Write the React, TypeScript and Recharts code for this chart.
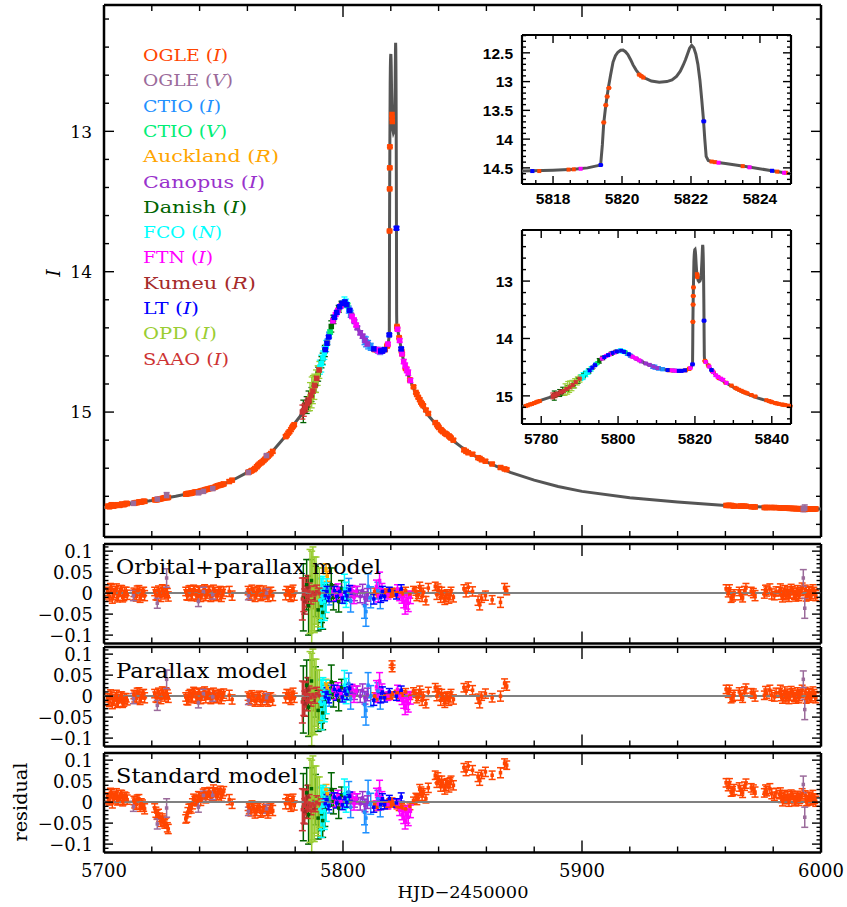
import React from 'react';
import { ComposedChart, Scatter, XAxis, YAxis, ErrorBar } from 'recharts';

// ---------- DATA ----------
// model light curve: [HJD-2450000, I]
const modelCurve: [number, number][] = [
  [5700, 15.68], [5710, 15.655], [5720, 15.63], [5730, 15.6], [5740, 15.565], [5745, 15.545], [5750, 15.515],
  [5755, 15.475], [5760, 15.43], [5765, 15.37], [5770, 15.29], [5775, 15.19], [5778, 15.125], [5780, 15.075],
  [5782, 15.03], [5784, 14.975], [5786, 14.905], [5788, 14.82], [5790, 14.71], [5792, 14.59], [5794, 14.46],
  [5796, 14.345], [5797, 14.3], [5798, 14.265], [5799, 14.24], [5800, 14.225], [5801, 14.225], [5802, 14.25],
  [5803, 14.29], [5804, 14.33], [5806, 14.4], [5808, 14.46], [5810, 14.51], [5812, 14.54], [5814, 14.555],
  [5816, 14.56], [5817.1, 14.555], [5818, 14.54], [5818.6, 14.525], [5819, 14.5], [5819.3, 14.46], [5819.38, 14.45],
  [5819.43, 14.1], [5819.47, 13.72], [5819.53, 13.41], [5819.6, 13.12], [5819.67, 12.88], [5819.74, 12.66],
  [5819.81, 12.55], [5819.88, 12.49], [5819.96, 12.455], [5820.03, 12.45], [5820.1, 12.48], [5820.17, 12.53],
  [5820.25, 12.62], [5820.32, 12.71], [5820.41, 12.8], [5820.5, 12.87], [5820.6, 12.92], [5820.7, 12.95],
  [5820.85, 12.99], [5821.08, 13.01], [5821.3, 13.0], [5821.45, 12.97], [5821.58, 12.91], [5821.69, 12.82],
  [5821.77, 12.72], [5821.84, 12.62], [5821.9, 12.52], [5821.96, 12.42], [5822.02, 12.37], [5822.08, 12.41],
  [5822.14, 12.52], [5822.2, 12.7], [5822.26, 12.98], [5822.31, 13.3], [5822.36, 13.65], [5822.4, 14.0],
  [5822.44, 14.3], [5822.5, 14.37], [5822.62, 14.395], [5823, 14.425], [5823.68, 14.485], [5824.3, 14.545],
  [5824.9, 14.6], [5826, 14.68], [5828, 14.77], [5830, 14.85], [5832, 14.92], [5834, 14.98], [5836, 15.03],
  [5840, 15.11], [5845, 15.19], [5850, 15.255], [5855, 15.31], [5860, 15.355], [5870, 15.43], [5880, 15.485],
  [5890, 15.53], [5900, 15.565], [5920, 15.61], [5940, 15.64], [5960, 15.665], [5980, 15.68], [6000, 15.69],
];

// rows: [t, I, err, residual orbital+parallax, residual parallax, residual standard]
type Row = [number, number, number, number, number, number];

const ogleI: Row[] = [
  [5701.5, 15.67, 0.010, 0.004, -0.004, 0.012], [5702.3, 15.675, 0.011, -0.008, -0.014, 0.004],
  [5703.1, 15.66, 0.010, 0.010, 0.002, 0.020], [5703.9, 15.67, 0.012, -0.004, -0.010, 0.010],
  [5704.8, 15.665, 0.010, 0.006, -0.002, 0.016], [5705.6, 15.66, 0.011, -0.010, -0.016, 0.004],
  [5706.5, 15.665, 0.010, 0.002, -0.006, 0.012], [5707.4, 15.655, 0.010, 0.008, 0.000, 0.018],
  [5708.3, 15.66, 0.012, -0.006, -0.012, 0.006], [5709.3, 15.65, 0.010, 0.004, -0.004, 0.012],
  [5712.5, 15.65, 0.010, 0.002, 0.004, 0.004], [5713.5, 15.645, 0.011, -0.008, -0.006, -0.006],
  [5714.6, 15.64, 0.010, 0.008, 0.010, 0.008], [5715.6, 15.64, 0.012, -0.004, -0.002, -0.004],
  [5716.6, 15.635, 0.010, 0.004, 0.006, -0.012],
  [5721.2, 15.625, 0.010, 0.004, 0.006, -0.014], [5722.2, 15.625, 0.011, -0.006, -0.004, -0.030],
  [5723.3, 15.62, 0.010, 0.002, 0.004, -0.036], [5724.4, 15.615, 0.012, 0.008, 0.010, -0.040],
  [5725.4, 15.61, 0.010, -0.004, -0.002, -0.052], [5726.5, 15.61, 0.011, 0.000, 0.004, -0.060],
  [5734.2, 15.585, 0.010, 0.004, -0.002, -0.040], [5735.1, 15.58, 0.011, -0.006, -0.010, -0.024],
  [5736.0, 15.58, 0.010, 0.008, 0.006, -0.012], [5737.0, 15.575, 0.012, -0.002, 0.000, -0.004],
  [5738.0, 15.57, 0.010, 0.006, 0.008, 0.004], [5739.0, 15.57, 0.011, -0.008, -0.006, 0.002],
  [5740.0, 15.565, 0.010, 0.004, 0.006, 0.014], [5741.0, 15.56, 0.010, -0.004, 0.000, 0.010],
  [5742.1, 15.555, 0.012, 0.008, 0.010, 0.022], [5743.1, 15.55, 0.010, -0.002, 0.002, 0.016],
  [5744.2, 15.545, 0.011, 0.006, 0.006, 0.024], [5745.3, 15.54, 0.010, -0.006, -0.004, 0.014],
  [5746.4, 15.535, 0.010, 0.004, 0.004, 0.024], [5747.5, 15.525, 0.012, -0.004, -0.002, 0.018],
  [5748.6, 15.52, 0.010, 0.006, 0.006, 0.028], [5749.6, 15.515, 0.011, -0.002, 0.000, 0.020],
  [5752.4, 15.495, 0.012, 0.004, 0.002, 0.006], [5753.6, 15.485, 0.011, -0.006, -0.008, -0.004],
  [5760.3, 15.43, 0.010, 0.006, 0.000, -0.010], [5761.5, 15.42, 0.011, -0.006, -0.010, -0.022],
  [5762.7, 15.41, 0.010, 0.004, -0.002, -0.014], [5763.9, 15.39, 0.012, -0.002, -0.008, -0.020],
  [5765.0, 15.37, 0.010, 0.008, 0.002, -0.010], [5766.2, 15.355, 0.011, -0.004, -0.010, -0.022],
  [5767.4, 15.335, 0.010, 0.002, -0.004, -0.016], [5768.6, 15.315, 0.012, -0.008, -0.012, -0.026],
  [5769.8, 15.295, 0.010, 0.004, -0.002, -0.014],
  [5776.5, 15.165, 0.010, 0.006, 0.006, 0.008], [5777.6, 15.14, 0.012, -0.004, -0.004, -0.004],
  [5778.7, 15.11, 0.010, 0.004, 0.002, 0.004], [5779.6, 15.09, 0.011, -0.006, -0.004, -0.008],
  [5813.2, 14.555, 0.008, 0.004, 0.000, -0.006], [5814.3, 14.56, 0.008, -0.004, -0.006, -0.012],
  [5817.6, 14.555, 0.006, 0.002, 0.000, -0.004], [5818.45, 14.53, 0.006, -0.002, -0.004, -0.010],
  [5818.6, 14.525, 0.006, 0.004, 0.002, -0.006],
  [5819.47, 13.71, 0.006, 0.002, 0.004, 0.000], [5819.53, 13.41, 0.006, -0.002, 0.000, -0.004],
  [5819.57, 13.26, 0.006, 0.002, 0.002, 0.002], [5819.62, 13.11, 0.006, -0.004, -0.002, -0.006],
  [5820.5, 12.88, 0.008, 0.004, 0.076, 0.002], [5820.56, 12.905, 0.008, 0.002, 0.066, 0.000],
  [5820.62, 12.93, 0.006, -0.002, 0.004, -0.004],
  [5822.6, 14.39, 0.006, 0.000, 0.004, -0.010], [5822.7, 14.40, 0.006, 0.004, 0.008, -0.006],
  [5823.5, 14.47, 0.006, -0.004, 0.000, -0.014], [5824.5, 14.565, 0.007, 0.002, 0.006, -0.010],
  [5824.75, 14.585, 0.007, -0.002, 0.002, -0.014],
  [5826.2, 14.69, 0.008, 0.006, 0.010, -0.016], [5828.0, 14.77, 0.008, -0.004, 0.000, -0.010],
  [5829.5, 14.82, 0.008, 0.008, 0.012, 0.004], [5830.5, 14.86, 0.009, 0.004, 0.006, 0.012],
  [5831.5, 14.895, 0.009, -0.004, -0.002, 0.010], [5832.6, 14.93, 0.010, 0.008, 0.006, 0.026],
  [5833.6, 14.955, 0.010, 0.002, 0.000, 0.022], [5834.7, 14.985, 0.010, -0.018, -0.018, 0.008],
  [5835.7, 15.01, 0.011, 0.012, 0.010, 0.034],
  [5838.6, 15.075, 0.010, 0.016, 0.020, 0.064], [5839.3, 15.09, 0.011, -0.004, 0.000, 0.046],
  [5840.1, 15.11, 0.010, 0.006, 0.008, 0.052], [5840.9, 15.125, 0.012, -0.010, -0.010, 0.038],
  [5841.8, 15.14, 0.010, -0.004, -0.002, 0.044], [5842.6, 15.15, 0.011, -0.016, -0.016, 0.030],
  [5843.5, 15.16, 0.010, -0.002, 0.000, 0.046], [5844.3, 15.17, 0.012, -0.012, -0.010, 0.036],
  [5845.2, 15.185, 0.010, 0.004, 0.006, 0.052], [5846.2, 15.20, 0.011, -0.010, -0.008, 0.040],
  [5850.6, 15.27, 0.010, 0.010, 0.020, 0.082], [5851.5, 15.28, 0.011, 0.002, 0.012, 0.074],
  [5852.4, 15.29, 0.010, 0.014, 0.024, 0.086], [5854.2, 15.30, 0.011, 0.004, 0.014, 0.076],
  [5856.5, 15.325, 0.011, -0.018, -0.006, 0.060], [5857.2, 15.33, 0.012, -0.028, -0.016, 0.052],
  [5858.0, 15.34, 0.010, -0.012, 0.000, 0.066], [5859.6, 15.35, 0.011, -0.006, 0.006, 0.072],
  [5862.4, 15.37, 0.010, -0.016, -0.004, 0.064], [5865.9, 15.395, 0.012, -0.022, 0.000, 0.070],
  [5867.6, 15.405, 0.011, 0.012, 0.030, 0.092], [5868.5, 15.41, 0.010, 0.006, 0.024, 0.088],
  [5960.3, 15.665, 0.010, 0.010, 0.016, 0.046], [5961.2, 15.665, 0.011, 0.002, 0.008, 0.038],
  [5962.4, 15.665, 0.010, -0.012, -0.006, 0.024], [5963.6, 15.67, 0.012, -0.004, 0.002, 0.030],
  [5965.8, 15.67, 0.010, 0.004, 0.010, 0.036], [5967.2, 15.67, 0.011, -0.010, -0.004, 0.022],
  [5968.0, 15.67, 0.010, 0.006, 0.012, 0.038], [5970.8, 15.675, 0.010, 0.004, 0.008, 0.034],
  [5971.7, 15.675, 0.011, 0.000, 0.006, 0.030],
  [5976.3, 15.68, 0.010, -0.002, 0.002, 0.022], [5977.3, 15.68, 0.011, 0.004, 0.006, 0.026],
  [5978.6, 15.68, 0.012, 0.010, 0.014, 0.032], [5980.5, 15.68, 0.010, -0.006, -0.002, 0.014],
  [5982.6, 15.682, 0.010, 0.004, 0.008, 0.018], [5983.4, 15.683, 0.011, -0.004, 0.000, 0.010],
  [5984.3, 15.684, 0.010, 0.002, 0.004, 0.014], [5985.2, 15.685, 0.010, -0.006, -0.004, 0.006],
  [5986.1, 15.685, 0.011, 0.004, 0.006, 0.014], [5987.0, 15.686, 0.010, -0.002, 0.000, 0.008],
  [5988.0, 15.687, 0.010, 0.006, 0.008, 0.016], [5988.9, 15.687, 0.011, -0.004, -0.002, 0.004],
  [5989.8, 15.688, 0.010, 0.002, 0.004, 0.010], [5990.7, 15.688, 0.012, -0.006, -0.004, 0.004],
  [5991.6, 15.689, 0.010, 0.004, 0.006, 0.012], [5993.4, 15.69, 0.011, 0.008, 0.010, 0.016],
  [5994.3, 15.69, 0.012, -0.004, -0.002, 0.004], [5995.2, 15.69, 0.010, 0.006, 0.008, 0.014],
  [5996.1, 15.69, 0.011, -0.002, 0.000, 0.006], [5997.0, 15.69, 0.010, 0.004, 0.006, 0.010],
  [5997.8, 15.69, 0.012, -0.006, -0.004, 0.002],
];

// further OGLE I epochs inside the densely sampled seasons
const ogleI2: Row[] = [
  [5701.9, 15.672, 0.012, -0.002, -0.010, 0.008], [5702.7, 15.668, 0.011, 0.012, 0.004, 0.022],
  [5703.5, 15.666, 0.012, -0.012, -0.018, -0.002], [5704.3, 15.667, 0.011, 0.000, -0.008, 0.010],
  [5705.2, 15.662, 0.012, 0.010, 0.002, 0.020], [5706.0, 15.663, 0.011, -0.006, -0.014, 0.006],
  [5706.9, 15.66, 0.012, 0.006, -0.002, 0.016], [5707.8, 15.658, 0.011, -0.010, -0.016, 0.002],
  [5708.7, 15.656, 0.012, 0.002, -0.006, 0.012], [5709.7, 15.652, 0.011, -0.004, -0.010, 0.006],
  [5712.9, 15.648, 0.012, -0.004, -0.002, -0.002], [5713.9, 15.645, 0.011, 0.006, 0.008, 0.006],
  [5715.1, 15.641, 0.012, -0.010, -0.008, -0.010], [5716.1, 15.638, 0.011, 0.002, 0.004, -0.006],
  [5717.0, 15.636, 0.012, -0.006, -0.004, -0.016],
  [5721.7, 15.625, 0.012, -0.004, -0.002, -0.024], [5722.8, 15.622, 0.011, 0.006, 0.008, -0.028],
  [5723.8, 15.618, 0.012, -0.008, -0.006, -0.046], [5724.9, 15.613, 0.011, 0.002, 0.004, -0.044],
  [5725.9, 15.61, 0.012, 0.006, 0.008, -0.050], [5726.9, 15.608, 0.011, -0.008, -0.004, -0.064],
  [5734.6, 15.583, 0.012, -0.004, -0.008, -0.036], [5735.5, 15.58, 0.011, 0.006, 0.002, -0.016],
  [5736.5, 15.578, 0.012, -0.006, -0.004, -0.014], [5737.5, 15.573, 0.011, 0.008, 0.010, 0.008],
  [5738.5, 15.57, 0.012, -0.004, -0.002, 0.004], [5739.5, 15.568, 0.011, 0.006, 0.008, 0.014],
  [5740.5, 15.563, 0.012, -0.008, -0.006, 0.004], [5741.5, 15.558, 0.011, 0.006, 0.008, 0.020],
  [5742.6, 15.552, 0.012, -0.006, -0.004, 0.010], [5743.6, 15.548, 0.011, 0.004, 0.006, 0.022],
  [5744.7, 15.543, 0.012, -0.008, -0.006, 0.012], [5745.8, 15.538, 0.011, 0.008, 0.008, 0.030],
  [5746.9, 15.53, 0.012, -0.006, -0.004, 0.014], [5748.0, 15.523, 0.011, 0.002, 0.002, 0.022],
  [5749.1, 15.518, 0.012, -0.008, -0.006, 0.014], [5750.1, 15.512, 0.011, 0.004, 0.006, 0.026],
  [5760.8, 15.426, 0.012, -0.002, -0.006, -0.016], [5761.9, 15.416, 0.011, 0.008, 0.002, -0.008],
  [5763.2, 15.402, 0.012, -0.008, -0.012, -0.026], [5764.4, 15.38, 0.011, 0.004, -0.002, -0.014],
  [5765.6, 15.362, 0.012, -0.006, -0.012, -0.024], [5766.8, 15.345, 0.011, 0.006, 0.000, -0.012],
  [5768.0, 15.325, 0.012, -0.002, -0.008, -0.020], [5769.2, 15.305, 0.011, 0.002, -0.004, -0.016],
  [5770.6, 15.28, 0.012, -0.006, -0.010, -0.020],
  [5776.0, 15.175, 0.012, -0.004, -0.004, -0.004], [5777.1, 15.15, 0.011, 0.004, 0.004, 0.006],
  [5778.2, 15.125, 0.012, -0.008, -0.008, -0.010], [5779.1, 15.1, 0.011, 0.008, 0.008, 0.008],
  [5830.9, 14.875, 0.012, -0.006, -0.004, 0.006], [5832.1, 14.912, 0.012, 0.014, 0.012, 0.030],
  [5833.1, 14.942, 0.012, -0.008, -0.010, 0.016],
  [5839.7, 15.1, 0.012, 0.010, 0.012, 0.058], [5841.3, 15.132, 0.012, 0.002, 0.004, 0.050],
  [5843.0, 15.155, 0.012, -0.008, -0.006, 0.040], [5844.8, 15.178, 0.012, -0.004, -0.002, 0.046],
  [5961.7, 15.665, 0.012, 0.008, 0.014, 0.044], [5963.0, 15.667, 0.011, -0.008, -0.002, 0.026],
  [5966.4, 15.67, 0.012, -0.004, 0.002, 0.028], [5968.6, 15.671, 0.011, 0.012, 0.018, 0.044],
  [5972.4, 15.676, 0.012, -0.006, 0.000, 0.024], [5976.8, 15.68, 0.011, 0.008, 0.012, 0.030],
  [5979.4, 15.68, 0.012, -0.002, 0.002, 0.020], [5981.2, 15.681, 0.011, 0.004, 0.008, 0.022],
  [5983.0, 15.682, 0.012, 0.010, 0.014, 0.022], [5983.9, 15.683, 0.011, -0.010, -0.006, 0.002],
  [5984.8, 15.684, 0.012, 0.006, 0.010, 0.016], [5985.7, 15.685, 0.011, -0.002, 0.000, 0.008],
  [5986.6, 15.686, 0.012, -0.008, -0.006, 0.002], [5987.5, 15.686, 0.011, 0.010, 0.012, 0.018],
  [5988.5, 15.687, 0.012, 0.000, 0.002, 0.010], [5989.4, 15.688, 0.011, -0.008, -0.006, 0.002],
  [5990.2, 15.688, 0.012, 0.006, 0.008, 0.014], [5991.1, 15.689, 0.011, -0.002, 0.000, 0.008],
  [5992.1, 15.689, 0.012, 0.012, 0.014, 0.020], [5993.8, 15.69, 0.011, -0.008, -0.006, 0.002],
  [5994.8, 15.69, 0.012, 0.002, 0.004, 0.010], [5995.7, 15.69, 0.011, -0.006, -0.004, 0.004],
  [5996.6, 15.69, 0.012, 0.008, 0.010, 0.016], [5997.4, 15.69, 0.011, -0.002, 0.000, 0.008],
];

const ogleV: Row[] = [
  [5712.3, 15.65, 0.012, -0.006, -0.006, -0.010], [5722.3, 15.62, 0.012, -0.024, -0.022, -0.052],
  [5726.2, 15.595, 0.022, 0.036, 0.040, -0.014], [5739.5, 15.575, 0.012, -0.020, -0.016, -0.012],
  [5741.6, 15.565, 0.010, 0.004, 0.006, 0.016], [5745.5, 15.545, 0.010, -0.004, -0.002, 0.016],
  [5760.4, 15.43, 0.010, -0.006, -0.010, -0.022], [5768.0, 15.31, 0.010, 0.000, -0.004, -0.016],
  [5992.6, 15.69, 0.020, 0.036, 0.040, 0.042], [5993.2, 15.685, 0.024, -0.036, -0.032, -0.036],
];

const ctioI: Row[] = [
  [5793.5, 14.50, 0.020, 0.006, 0.010, 0.008], [5794.2, 14.45, 0.020, -0.008, -0.004, -0.006],
  [5802.4, 14.27, 0.025, 0.010, 0.030, 0.024], [5803.2, 14.30, 0.025, -0.020, -0.006, -0.012],
  [5809.0, 14.49, 0.030, -0.030, -0.020, -0.024], [5809.6, 14.50, 0.035, -0.044, -0.034, -0.038],
  [5810.5, 14.52, 0.030, 0.016, 0.026, 0.022], [5811.6, 14.535, 0.025, -0.010, 0.000, -0.004],
  [5814.6, 14.56, 0.020, 0.006, 0.012, 0.008], [5815.6, 14.565, 0.025, -0.012, -0.006, -0.010],
];

const ctioV: Row[] = [
  [5794.6, 14.43, 0.015, 0.004, 0.010, 0.008], [5801.9, 14.24, 0.015, -0.004, 0.006, 0.002],
];

const auckland: Row[] = [
  [5792.9, 14.535, 0.012, 0.058, 0.028, 0.030], [5793.4, 14.51, 0.012, 0.040, 0.020, 0.020],
];

const canopus: Row[] = [
  [5803.5, 14.31, 0.012, 0.002, 0.012, 0.008], [5804.8, 14.355, 0.012, -0.006, 0.004, 0.000],
  [5806.0, 14.40, 0.012, 0.004, 0.012, 0.008], [5807.2, 14.435, 0.015, -0.008, 0.000, -0.004],
  [5808.2, 14.46, 0.015, 0.006, 0.014, 0.010], [5809.2, 14.49, 0.015, -0.012, -0.004, -0.008],
  [5810.2, 14.515, 0.015, -0.004, 0.004, 0.000],
];

const danish: Row[] = [
  [5783.4, 14.995, 0.080, -0.010, -0.008, -0.012], [5784.8, 14.95, 0.060, 0.020, 0.026, 0.022],
  [5785.6, 14.92, 0.070, -0.030, -0.026, -0.030], [5786.8, 14.875, 0.050, 0.030, 0.036, 0.032],
  [5788.5, 14.80, 0.060, 0.004, 0.010, 0.006], [5789.6, 14.73, 0.050, -0.040, -0.034, -0.038],
  [5791.0, 14.645, 0.040, -0.030, -0.024, -0.028], [5791.5, 14.62, 0.040, -0.046, -0.040, -0.044],
  [5792.4, 14.565, 0.040, -0.020, -0.014, -0.018], [5795.1, 14.39, 0.040, 0.020, 0.034, 0.030],
  [5796.0, 14.34, 0.030, -0.010, 0.004, 0.002], [5798.2, 14.265, 0.025, -0.020, -0.010, -0.014],
  [5799.4, 14.23, 0.020, 0.010, 0.020, 0.016],
];

const fco: Row[] = [
  [5790.3, 14.68, 0.050, -0.016, -0.012, -0.016], [5790.9, 14.655, 0.060, -0.024, -0.020, -0.024],
  [5791.6, 14.615, 0.050, -0.010, -0.006, -0.010], [5792.2, 14.58, 0.045, -0.020, -0.016, -0.020],
  [5793.0, 14.53, 0.040, -0.006, -0.002, -0.006], [5800.6, 14.215, 0.035, 0.010, 0.026, 0.020],
  [5801.3, 14.225, 0.030, -0.004, 0.012, 0.006],
];

const ftn: Row[] = [
  [5795.8, 14.35, 0.012, 0.004, 0.014, 0.010], [5796.9, 14.305, 0.012, -0.006, 0.004, 0.000],
  [5797.9, 14.275, 0.012, 0.010, 0.020, 0.016], [5799.1, 14.245, 0.012, -0.004, 0.006, 0.002],
  [5803.8, 14.32, 0.012, 0.006, 0.016, 0.012], [5804.6, 14.345, 0.015, -0.010, 0.000, -0.004],
  [5805.5, 14.38, 0.012, 0.004, 0.012, 0.008], [5814.0, 14.555, 0.015, 0.016, 0.022, 0.018],
  [5814.8, 14.56, 0.015, -0.006, 0.000, -0.004], [5815.3, 14.565, 0.020, 0.030, 0.036, 0.032],
  [5816.3, 14.565, 0.015, 0.008, 0.014, 0.010], [5818.8, 14.515, 0.010, -0.004, 0.000, -0.006],
  [5822.8, 14.41, 0.010, 0.010, 0.016, -0.004], [5823.7, 14.49, 0.012, -0.006, 0.000, -0.020],
  [5824.7, 14.585, 0.012, -0.012, -0.008, -0.030], [5825.4, 14.64, 0.015, -0.020, -0.014, -0.036],
  [5826.0, 14.67, 0.020, -0.030, -0.024, -0.044], [5826.7, 14.70, 0.020, -0.018, -0.012, -0.030],
  [5827.3, 14.72, 0.020, -0.024, -0.018, -0.036], [5828.2, 14.775, 0.015, -0.010, -0.004, -0.022],
];

const kumeu: Row[] = [
  [5784.0, 14.97, 0.030, -0.020, -0.018, -0.022], [5785.3, 14.93, 0.030, 0.012, 0.014, 0.010],
  [5787.8, 14.825, 0.025, -0.012, -0.010, -0.014],
];

const lt: Row[] = [
  [5792.6, 14.555, 0.012, -0.006, -0.002, -0.004], [5793.3, 14.51, 0.012, 0.004, 0.008, 0.006],
  [5794.0, 14.465, 0.010, -0.010, -0.006, -0.008], [5796.4, 14.325, 0.010, 0.006, 0.016, 0.012],
  [5797.4, 14.29, 0.012, -0.008, 0.002, -0.002], [5798.6, 14.25, 0.010, 0.004, 0.014, 0.010],
  [5799.7, 14.225, 0.012, -0.012, -0.002, -0.006], [5800.8, 14.215, 0.010, 0.002, 0.012, 0.008],
  [5801.6, 14.235, 0.012, -0.006, 0.004, 0.000], [5802.8, 14.275, 0.010, 0.008, 0.018, 0.014],
  [5812.9, 14.55, 0.012, -0.014, -0.010, -0.012], [5815.8, 14.565, 0.012, -0.010, -0.004, -0.006],
  [5816.5, 14.565, 0.012, 0.004, 0.010, 0.008], [5817.4, 14.555, 0.010, -0.008, -0.004, -0.006],
  [5819.38, 14.45, 0.008, 0.006, 0.010, 0.008], [5822.37, 13.69, 0.010, -0.004, 0.000, -0.002],
  [5824.35, 14.55, 0.010, 0.010, 0.014, 0.012],
];

const opd: Row[] = [
  [5786.2, 14.89, 0.100, 0.004, 0.006, 0.004], [5786.9, 14.86, 0.110, -0.010, -0.008, -0.010],
  [5787.4, 14.84, 0.100, 0.010, 0.012, 0.010], [5788.0, 14.82, 0.090, -0.004, -0.002, -0.004],
  [5788.7, 14.78, 0.080, 0.006, 0.008, 0.006], [5789.4, 14.74, 0.070, -0.010, -0.008, -0.010],
  [5790.1, 14.70, 0.060, 0.000, 0.002, 0.000],
];

const saao: Row[] = [
  [5783.0, 15.0, 0.050, -0.014, -0.014, -0.018], [5783.6, 14.99, 0.040, -0.004, -0.006, -0.010],
  [5784.3, 14.965, 0.030, 0.006, 0.004, 0.000], [5785.0, 14.94, 0.025, -0.008, -0.010, -0.014],
  [5785.8, 14.915, 0.020, 0.004, 0.004, -0.002], [5786.6, 14.88, 0.020, -0.006, -0.004, -0.010],
  [5787.4, 14.85, 0.015, 0.002, 0.004, -0.004], [5788.2, 14.81, 0.015, -0.004, -0.002, -0.008],
  [5789.0, 14.76, 0.015, 0.004, 0.006, 0.000], [5790.0, 14.70, 0.012, 0.000, 0.002, -0.004],
];

const obsNames = ['OGLE', 'OGLE', 'CTIO', 'CTIO', 'Auckland', 'Canopus', 'Danish', 'FCO', 'FTN', 'Kumeu', 'LT', 'OPD', 'SAAO'];
const obsBands = ['I', 'V', 'I', 'V', 'R', 'I', 'I', 'N', 'I', 'R', 'I', 'I', 'I'];
const obsColors = ['#FF4500', '#9B6B9B', '#1E90FF', '#00EE76', '#FFA500', '#9932CC', '#006400', '#00FFFF', '#FF00FF', '#A52A2A', '#0000FF', '#9ACD32', '#CD3333'];
const obsRows: Row[][] = [[...ogleI, ...ogleI2], ogleV, ctioI, ctioV, auckland, canopus, danish, fco, ftn, kumeu, lt, opd, saao];
const legendWidths = [85, 90, 78, 84, 136, 122, 104, 79, 70, 113, 56, 74, 86];

const residualTitles = ['Orbital+parallax model', 'Parallax model', 'Standard model'];
const residualTitleWidths = [265, 171, 182];
const residualKeys = ['r1', 'r2', 'r3'];

const mainXMajors = [5700, 5800, 5900, 6000];
const mainYMajors = [13, 14, 15];
const resYMajors = [-0.1, -0.05, 0, 0.05, 0.1];
const topInsetXMajors = [5818, 5820, 5822, 5824];
const topInsetYMajors = [12.5, 13, 13.5, 14, 14.5];
const botInsetXMajors = [5780, 5800, 5820, 5840];
const botInsetYMajors = [13, 14, 15];

// ---------- HELPERS ----------
const range = (a: number, b: number, s: number) => {
  const out: number[] = [];
  for (let v = a; v <= b + 1e-9; v += s) out.push(Math.round(v * 10000) / 10000);
  return out;
};

const seriesData = obsRows.map((rows) =>
  rows.map((r) => ({ t: r[0], m: r[1], e: r[2], r1: r[3], r2: r[4], r3: r[5] }))
);
const modelData = modelCurve.map(([t, m]) => ({ t, m }));

const SERIF = 'DejaVu Serif';
const SANS = 'Liberation Sans';

type Font = { family: string; size: number; weight?: string | number };

function makeTick(
  side: 'b' | 't' | 'l' | 'r',
  majors: number[],
  majorLen: number,
  minorLen: number,
  label: ((v: number) => string) | null,
  font: Font,
  off: number
) {
  return (props: any) => {
    const { x, y, payload } = props;
    const v = payload.value as number;
    const isMajor = majors.some((m) => Math.abs(m - v) < 1e-6);
    const len = isMajor ? majorLen : minorLen;
    let x2 = x, y2 = y;
    if (side === 'b') y2 = y - len;
    if (side === 't') y2 = y + len;
    if (side === 'l') x2 = x + len;
    if (side === 'r') x2 = x - len;
    let txt: React.ReactNode = null;
    if (isMajor && label) {
      const s = label(v);
      if (side === 'b')
        txt = (
          <text x={x} y={y + off} textAnchor="middle" fontFamily={font.family} fontSize={font.size} fontWeight={font.weight ?? 'normal'} fill="#000">
            {s}
          </text>
        );
      if (side === 'l')
        txt = (
          <text x={x - off} y={y + font.size * 0.37} textAnchor="end" fontFamily={font.family} fontSize={font.size} fontWeight={font.weight ?? 'normal'} fill="#000">
            {s}
          </text>
        );
    }
    return (
      <g>
        <line x1={x} y1={y} x2={x2} y2={y2} stroke="#000" strokeWidth={1.4} />
        {txt}
      </g>
    );
  };
}

type PanelProps = {
  plot: { x: number; y: number; w: number; h: number };
  xDomain: [number, number];
  yDomain: [number, number];
  reversed?: boolean;
  xTicks: number[];
  xMajors: number[];
  yTicks: number[];
  yMajors: number[];
  lens: [number, number, number, number];
  xLabel: ((v: number) => string) | null;
  yLabel: ((v: number) => string) | null;
  font: Font;
  xOff: number;
  yOff: number;
  yKey: string;
  frameW: number;
  children: React.ReactNode;
};

function Panel(p: PanelProps) {
  const ML = 70, MR = 30, MT = 12, MB = 40;
  const w = p.plot.w + ML + MR;
  const h = p.plot.h + MT + MB;
  const frame = { stroke: '#000', strokeWidth: p.frameW };
  const [xMaj, xMin, yMaj, yMin] = p.lens;
  return (
    <div style={{ position: 'absolute', left: p.plot.x - ML, top: p.plot.y - MT, width: w, height: h }}>
      <ComposedChart width={w} height={h} margin={{ top: MT - 1, left: ML - 1, right: MR - 1, bottom: MB - 1 }}>
        <XAxis
          xAxisId="b" orientation="bottom" type="number" dataKey="t" domain={p.xDomain} allowDataOverflow
          ticks={p.xTicks} interval={0} height={1} tickLine={false} tickSize={0} tickMargin={0} axisLine={frame}
          tick={makeTick('b', p.xMajors, xMaj, xMin, p.xLabel, p.font, p.xOff)}
        />
        <XAxis
          xAxisId="t" orientation="top" type="number" dataKey="t" domain={p.xDomain} allowDataOverflow
          ticks={p.xTicks} interval={0} height={1} tickLine={false} tickSize={0} tickMargin={0} axisLine={frame}
          tick={makeTick('t', p.xMajors, xMaj, xMin, null, p.font, 0)}
        />
        <YAxis
          yAxisId="l" orientation="left" type="number" dataKey={p.yKey} domain={p.yDomain} reversed={p.reversed} allowDataOverflow
          ticks={p.yTicks} interval={0} width={1} tickLine={false} tickSize={0} tickMargin={0} axisLine={frame}
          tick={makeTick('l', p.yMajors, yMaj, yMin, p.yLabel, p.font, p.yOff)}
        />
        <YAxis
          yAxisId="r" orientation="right" type="number" dataKey={p.yKey} domain={p.yDomain} reversed={p.reversed} allowDataOverflow
          ticks={p.yTicks} interval={0} width={1} tickLine={false} tickSize={0} tickMargin={0} axisLine={frame}
          tick={makeTick('r', p.yMajors, yMaj, yMin, null, p.font, 0)}
        />
        {p.children}
      </ComposedChart>
    </div>
  );
}

const square = (c: string, s: number) => (props: any) =>
  props.cx == null ? <g /> : <rect x={props.cx - s / 2} y={props.cy - s / 2} width={s} height={s} fill={c} />;

const inRange = (t: number, dom?: [number, number]) => !dom || (t >= dom[0] && t <= dom[1]);

function obsSeries(yKey: string, size: number, cap: number, ebw: number, prefix: string, dom?: [number, number]) {
  return seriesData.map((d, i) => (
    <Scatter
      key={prefix + i}
      data={d.filter((r) => inRange(r.t, dom))}
      dataKey={yKey}
      xAxisId="b"
      yAxisId="l"
      fill={obsColors[i]}
      shape={square(obsColors[i], size)}
      isAnimationActive={false}
    >
      <ErrorBar dataKey="e" direction="y" width={cap} stroke={obsColors[i]} strokeWidth={ebw} />
    </Scatter>
  ));
}

function modelSeries(key: string, width: number, dom?: [number, number]) {
  return (
    <Scatter
      key={key}
      data={modelData.filter((r) => inRange(r.t, dom))}
      dataKey="m"
      xAxisId="b"
      yAxisId="l"
      line={{ stroke: '#555555', strokeWidth: width }}
      lineType="joint"
      shape={() => <g />}
      isAnimationActive={false}
    />
  );
}

const numFmt = (v: number) => String(v);
const resFmt = (v: number) => (Math.abs(v) < 1e-9 ? '0' : v < 0 ? '\u2212' + String(-v) : String(v));

export default function App() {
  const mainFont: Font = { family: SERIF, size: 17 };
  const resFont: Font = { family: SERIF, size: 18 };
  const insetFont: Font = { family: SANS, size: 15.5, weight: 'bold' };
  const resPlots = [
    { x: 104, y: 543.5, w: 717, h: 99.5 },
    { x: 104, y: 647.3, w: 717, h: 99.5 },
    { x: 104, y: 752.5, w: 717, h: 99.5 },
  ];
  const topDom: [number, number] = [5817.1, 5824.9];
  const botDom: [number, number] = [5775, 5845];
  return (
    <div style={{ position: 'absolute', left: 0, top: 0, width: 847, height: 907, background: '#fff', overflow: 'hidden' }}>
      {/* main light curve */}
      <Panel
        plot={{ x: 104, y: 5, w: 717, h: 532 }}
        xDomain={[5700, 6000]} yDomain={[12.1, 15.89]} reversed
        xTicks={range(5700, 6000, 20)} xMajors={mainXMajors}
        yTicks={range(12.2, 15.8, 0.2)} yMajors={mainYMajors}
        lens={[12, 6, 10, 5]} xLabel={null} yLabel={numFmt} font={mainFont} xOff={0} yOff={12}
        yKey="m" frameW={2.5}
      >
        {[modelSeries('mm', 3), ...obsSeries('m', 5.5, 3, 1.3, 'mo')]}
      </Panel>

      {/* residual panels */}
      {resPlots.map((pl, k) => (
        <Panel
          key={'res' + k}
          plot={pl}
          xDomain={[5700, 6000]} yDomain={[-0.12, 0.117]}
          xTicks={range(5700, 6000, 20)} xMajors={mainXMajors}
          yTicks={range(-0.11, 0.11, 0.01)} yMajors={resYMajors}
          lens={[12, 6, 9, 4.5]} xLabel={k === 2 ? numFmt : null} yLabel={resFmt} font={resFont} xOff={24} yOff={11}
          yKey={residualKeys[k]} frameW={2.5}
        >
          {[
            <Scatter
              key={'zero' + k}
              data={[{ t: 5700, [residualKeys[k]]: 0 }, { t: 6000, [residualKeys[k]]: 0 }]}
              dataKey={residualKeys[k]}
              xAxisId="b"
              yAxisId="l"
              line={{ stroke: '#808080', strokeWidth: 2 }}
              lineType="joint"
              shape={() => <g />}
              isAnimationActive={false}
            />,
            ...obsSeries(residualKeys[k], 3.5, 3.5, 1.5, 'r' + k),
          ]}
        </Panel>
      ))}

      {/* top inset */}
      <Panel
        plot={{ x: 522, y: 35, w: 269, h: 149 }}
        xDomain={topDom} yDomain={[12.19, 14.78]} reversed
        xTicks={range(5817.5, 5824.5, 0.5)} xMajors={topInsetXMajors}
        yTicks={range(12.2, 14.7, 0.1)} yMajors={topInsetYMajors}
        lens={[8, 4, 8, 4]} xLabel={numFmt} yLabel={numFmt} font={insetFont} xOff={20} yOff={9}
        yKey="m" frameW={2.2}
      >
        {[modelSeries('tm', 3, topDom), ...obsSeries('m', 4, 2.5, 1.2, 'ti', topDom)]}
      </Panel>

      {/* bottom inset */}
      <Panel
        plot={{ x: 522, y: 230, w: 269, h: 194 }}
        xDomain={botDom} yDomain={[12.11, 15.49]} reversed
        xTicks={range(5780, 5840, 5)} xMajors={botInsetXMajors}
        yTicks={range(12.2, 15.4, 0.2)} yMajors={botInsetYMajors}
        lens={[8, 4, 8, 4]} xLabel={numFmt} yLabel={numFmt} font={insetFont} xOff={20} yOff={9}
        yKey="m" frameW={2.2}
      >
        {[modelSeries('bm', 3, botDom), ...obsSeries('m', 4, 2.5, 1.2, 'bi', botDom)]}
      </Panel>

      {/* texts */}
      <svg width={847} height={907} style={{ position: 'absolute', left: 0, top: 0, pointerEvents: 'none' }}>
        {obsNames.map((n, i) => (
          <text
            key={'lg' + i}
            x={143}
            y={61 + i * 25.3}
            fill={obsColors[i]}
            fontFamily={SERIF}
            fontSize={17.5}
            textLength={legendWidths[i]}
            lengthAdjust="spacingAndGlyphs"
          >
            {n + ' ('}
            <tspan fontStyle="italic">{obsBands[i]}</tspan>
            {')'}
          </text>
        ))}
        {residualTitles.map((s, k) => (
          <text
            key={'rt' + k}
            x={116}
            y={[573.5, 677.5, 782.5][k]}
            fill="#000"
            fontFamily={SERIF}
            fontSize={20}
            textLength={residualTitleWidths[k]}
            lengthAdjust="spacingAndGlyphs"
          >
            {s}
          </text>
        ))}
        <text x={60} y={273} transform="rotate(-90 60 273)" textAnchor="middle" fontFamily={SERIF} fontStyle="italic" fontSize={19} fill="#000">
          I
        </text>
        <text x={27} y={802} transform="rotate(-90 27 802)" textAnchor="middle" fontFamily={SERIF} fontSize={18} fill="#000" textLength={79} lengthAdjust="spacingAndGlyphs">
          residual
        </text>
        <text x={463} y={898} textAnchor="middle" fontFamily={SERIF} fontSize={17} fill="#000" textLength={131} lengthAdjust="spacingAndGlyphs">
          HJD{'\u2212'}2450000
        </text>
      </svg>
    </div>
  );
}
